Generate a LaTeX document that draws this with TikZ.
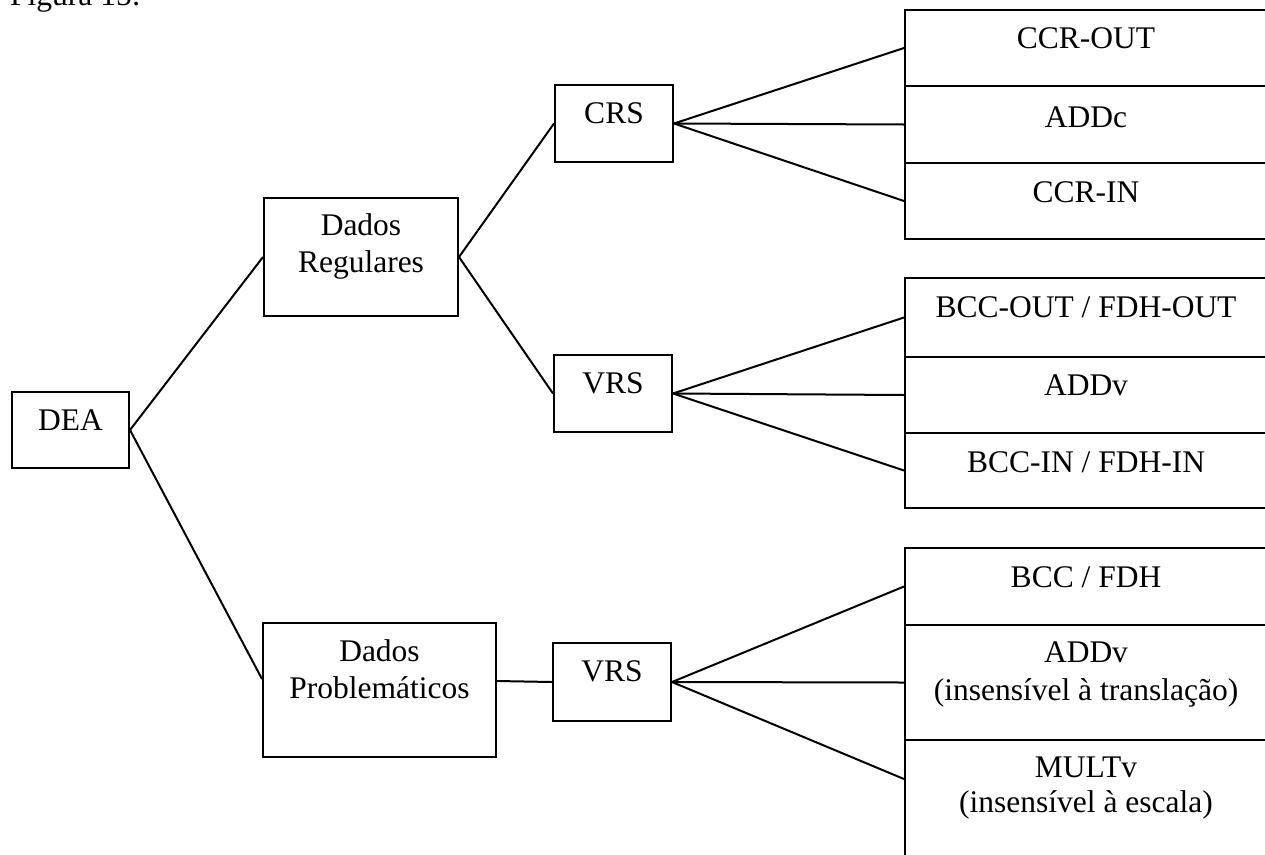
\documentclass[tikz,border=0pt]{standalone}
\usepackage{fontspec}
\setmainfont{Liberation Serif}
\usetikzlibrary{fit}
\begin{document}
\begin{tikzpicture}[x=1pt,y=-1pt,
  box/.style={draw, line width=2pt, inner sep=0pt, rectangle},
  lbl/.style={anchor=base, inner sep=0pt, font=\fontsize{31.5}{37}\selectfont},
  link/.style={line width=2pt}]
\useasboundingbox (0,0) rectangle (1265,854);
\clip (0,0) rectangle (1265,854);
\fill[white] (0,0) rectangle (1265,854);

% caption line, cut by the top edge
\node[lbl, anchor=base west] (cap) at (10,5) {Figura 15:};

% root
\node[box, fit={(12,392) (129,468)}] (dea) {};
\node[lbl] (deaT) at (70.5,430) {DEA};

% data types
\node[box, fit={(264,198) (458,316)}] (dr) {};
\node[lbl] (drT1) at (361,235) {Dados};
\node[lbl] (drT2) at (361,272) {Regulares};

\node[box, fit={(263,623) (496,757)}] (dp) {};
\node[lbl] (dpT1) at (379.5,661) {Dados};
\node[lbl] (dpT2) at (379.5,698) {Problemáticos};

% returns to scale
\node[box, fit={(555,85) (673,162)}] (crs) {};
\node[lbl] (crsT) at (614,123) {CRS};
\node[box, fit={(554,355) (672,432)}] (vrsA) {};
\node[lbl] (vrsAT) at (613,393) {VRS};
\node[box, fit={(553,643) (671,721)}] (vrsB) {};
\node[lbl] (vrsBT) at (612,681) {VRS};

% model column
\node[box, fit={(905,10) (1268,86)}] (r1a) {};
\node[box, fit={(905,86) (1268,163)}] (r1b) {};
\node[box, fit={(905,163) (1268,239)}] (r1c) {};
\node[lbl] (r1aT) at (1086,48) {CCR-OUT};
\node[lbl] (r1bT) at (1086,127) {ADDc};
\node[lbl] (r1cT) at (1086,202) {CCR-IN};

\node[box, fit={(905,278) (1268,357)}] (r2a) {};
\node[box, fit={(905,357) (1268,433)}] (r2b) {};
\node[box, fit={(905,433) (1268,508)}] (r2c) {};
\node[lbl] (r2aT) at (1086,317) {BCC-OUT / FDH-OUT};
\node[lbl] (r2bT) at (1086,395) {ADDv};
\node[lbl] (r2cT) at (1086,472) {BCC-IN / FDH-IN};

\node[box, fit={(905,548) (1268,625)}] (r3a) {};
\node[box, fit={(905,625) (1268,740)}] (r3b) {};
\node[box, fit={(905,740) (1268,870)}] (r3c) {};
\node[lbl] (r3aT) at (1086,587) {BCC / FDH};
\node[lbl] (r3bT1) at (1086,662) {ADDv};
\node[lbl] (r3bT2) at (1086,700) {(insensível à translação)};
\node[lbl] (r3cT1) at (1086,777) {MULTv};
\node[lbl] (r3cT2) at (1086,812) {(insensível à escala)};

% connectors
\draw[link] (dea.east) -- (dr.west);
\draw[link] (dea.east) -- ([yshift=11pt]dp.west);
\draw[link] (dr.east) -- (crs.west);
\draw[link] (dr.east) -- (vrsA.west);
\draw[link] ([yshift=9pt]dp.east) -- (vrsB.west);

\draw[link] (crs.east) -- (r1a.west);
\draw[link] (crs.east) -- (r1b.west);
\draw[link] (crs.east) -- (r1c.west);

\draw[link] (vrsA.east) -- (r2a.west);
\draw[link] (vrsA.east) -- (r2b.west);
\draw[link] (vrsA.east) -- (r2c.west);

\draw[link] (vrsB.east) -- (r3a.west);
\draw[link] (vrsB.east) -- (r3b.west);
\draw[link] (vrsB.east) -- ([yshift=26pt]r3c.west);
\end{tikzpicture}
\end{document}
